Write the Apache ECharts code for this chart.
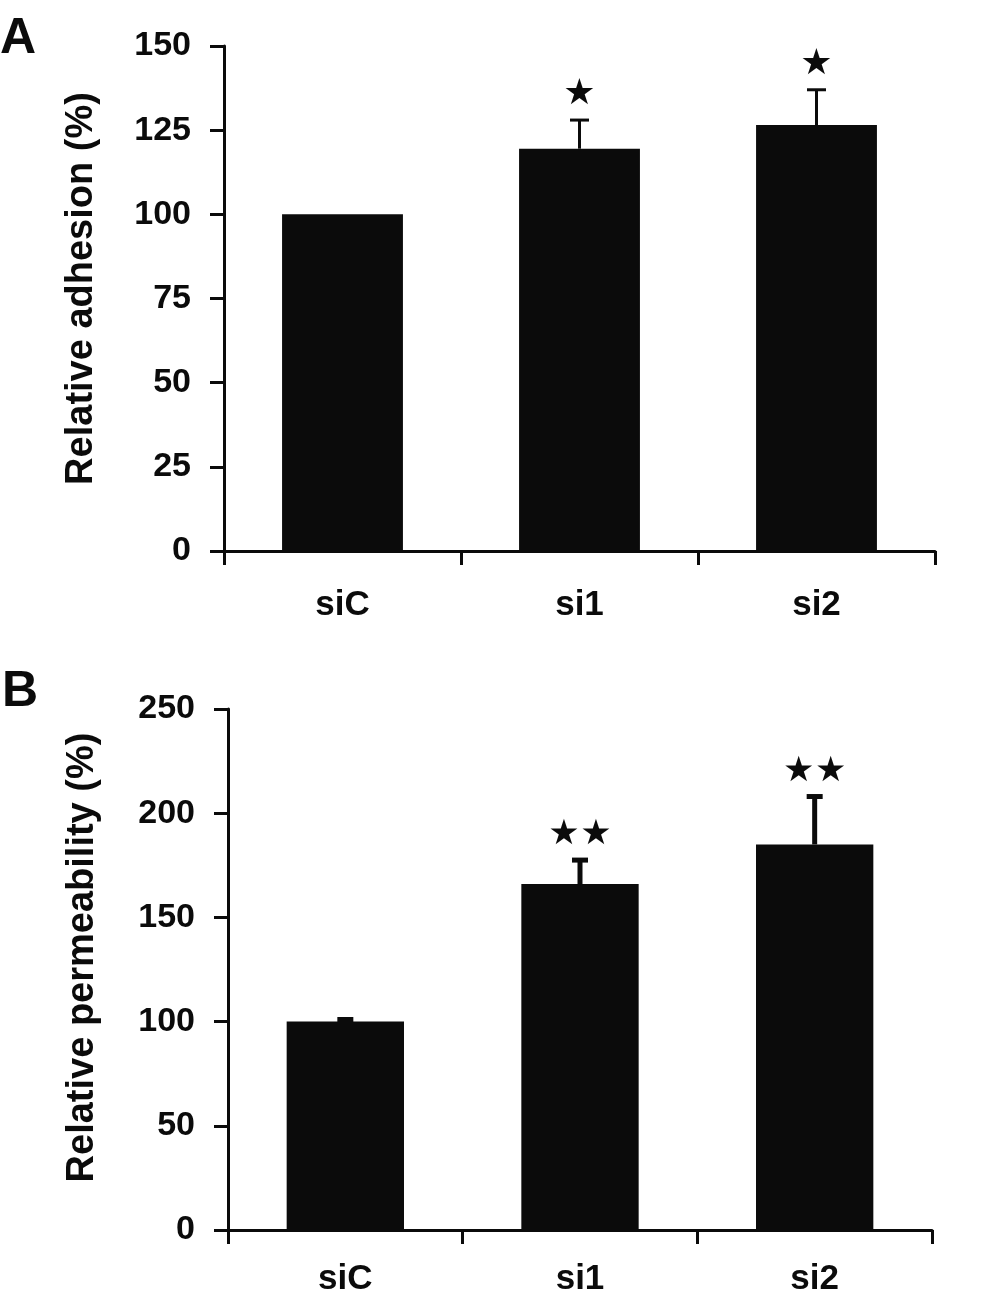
<!DOCTYPE html>
<html>
<head>
<meta charset="utf-8">
<script src="https://cdn.jsdelivr.net/npm/echarts@6/dist/echarts.min.js"></script>
<style>
html,body{margin:0;padding:0;background:#fff;}
#chart{width:992px;height:1310px;}
</style>
</head>
<body>
<div id="chart"></div>
<script>
// ---- data ----
const categories = ['siC', 'si1', 'si2'];
const adhesionMean = [100, 119.5, 126.5];
const adhesionErr = [0, 8.5, 10.5];
const adhesionStars = [0, 1, 1];
const permMean = [100, 166, 185];
const permErr = [1, 11.5, 23];
const permStars = [0, 2, 2];
const adhesionTicks = { min: 0, max: 150, interval: 25 };
const permTicks = { min: 0, max: 250, interval: 50 };

const BAR = '#0b0b0b';
const FONT = 'Liberation Sans, Arial, sans-serif';

function errRender(capW, capH, stemW, starSize) {
  return function (params, api) {
    const i = api.value(0), m = api.value(1), e = api.value(2), n = api.value(3);
    const base = api.coord([i, m]);
    const top = api.coord([i, m + e]);
    const children = [];
    if (e > 0) {
      children.push({
        type: 'rect',
        shape: { x: top[0] - stemW / 2, y: top[1], width: stemW, height: base[1] - top[1] },
        style: { fill: BAR }
      });
      children.push({
        type: 'rect',
        shape: { x: top[0] - capW / 2, y: top[1] - capH / 2, width: capW, height: capH },
        style: { fill: BAR }
      });
    }
    const sp = 32;
    for (let k = 0; k < n; k++) {
      const dx = (k - (n - 1) / 2) * sp;
      children.push({
        type: 'text',
        x: top[0] + dx, y: top[1] - 25,
        style: { text: '★', fill: BAR, font: starSize + 'px DejaVu Sans', align: 'center', verticalAlign: 'middle' }
      });
    }
    return { type: 'group', children: children };
  };
}

function xAxisCfg(gridIndex, margin) {
  return {
    type: 'category', gridIndex: gridIndex, data: categories,
    boundaryGap: true,
    axisLine: { lineStyle: { color: BAR, width: 3 } },
    axisTick: { show: true, length: 14, lineStyle: { color: BAR, width: 3 }, alignWithLabel: false },
    axisLabel: { color: BAR, fontFamily: FONT, fontWeight: 'bold', fontSize: 35, margin: margin }
  };
}
function yAxisCfg(gridIndex, t, name, gap, shift) {
  return {
    type: 'value', gridIndex: gridIndex, min: t.min, max: t.max, interval: t.interval,
    name: name, nameLocation: 'middle', nameGap: gap, nameRotate: 90,
    nameTextStyle: { color: BAR, fontFamily: FONT, fontWeight: 'bold', fontSize: 38, padding: [0, 0, 0, shift] },
    axisLine: { show: true, lineStyle: { color: BAR, width: 3 } },
    axisTick: { show: true, length: 14, lineStyle: { color: BAR, width: 3 } },
    axisLabel: { color: BAR, fontFamily: FONT, fontWeight: 'bold', fontSize: 34, margin: 33 },
    splitLine: { show: false }
  };
}

const option = {
  backgroundColor: '#fff',
  animation: false,
  graphic: [
    { type: 'text', left: 0, top: 14, style: { text: 'A', font: 'bold 50px ' + FONT, fill: BAR } },
    { type: 'text', left: 2, top: 667, style: { text: 'B', font: 'bold 50px ' + FONT, fill: BAR } }
  ],
  grid: [
    { left: 224, right: 57, top: 46, bottom: 759 },
    { left: 228, right: 60, top: 709, bottom: 80 }
  ],
  xAxis: [xAxisCfg(0, 37), xAxisCfg(1, 32)],
  yAxis: [
    yAxisCfg(0, adhesionTicks, 'Relative adhesion (%)', 123, 20),
    yAxisCfg(1, permTicks, 'Relative permeability (%)', 126, 24)
  ],
  series: [
    { type: 'bar', xAxisIndex: 0, yAxisIndex: 0, data: adhesionMean, barWidth: '51%', itemStyle: { color: BAR } },
    { type: 'bar', xAxisIndex: 1, yAxisIndex: 1, data: permMean, barWidth: '50%', itemStyle: { color: BAR } },
    {
      type: 'custom', xAxisIndex: 0, yAxisIndex: 0, z: 5,
      renderItem: errRender(19, 3, 3, 36),
      data: categories.map((c, i) => [i, adhesionMean[i], adhesionErr[i], adhesionStars[i]])
    },
    {
      type: 'custom', xAxisIndex: 1, yAxisIndex: 1, z: 5,
      renderItem: errRender(16, 5, 5, 35),
      data: categories.map((c, i) => [i, permMean[i], permErr[i], permStars[i]])
    }
  ]
};

const chart = echarts.init(document.getElementById('chart'), null, { renderer: 'canvas' });
chart.setOption(option);
</script>
</body>
</html>
